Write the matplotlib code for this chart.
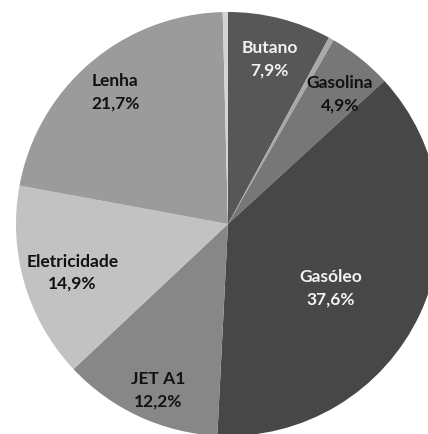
import matplotlib
matplotlib.use("Agg")
import matplotlib.pyplot as plt
import numpy as np

labels = ["Butano", "", "Gasolina", "Gasóleo", "JET A1", "Eletricidade", "Lenha", ""]
values = [7.9, 0.4, 4.9, 37.6, 12.2, 14.9, 21.7, 0.4]
pct_text = ["7,9%", "", "4,9%", "37,6%", "12,2%", "14,9%", "21,7%", ""]
colors = ["#575757", "#a8a8a8", "#777777", "#474747", "#878787", "#c2c2c2", "#9b9b9b", "#d4d4d4"]
text_colors = ["#f2f2f2", "k", "#111111", "#f2f2f2", "#111111", "#111111", "#111111", "k"]
label_r = [0.80, 0, 0.81, 0.57, 0.85, 0.77, 0.82, 0]
label_dang = [0, 0, 2, 7, -2, -1, 0, 0]

W, H = 428, 434
cx, cy, R = 228, 224, 212
fig = plt.figure(figsize=(W / 100, H / 100), dpi=100)
ax = fig.add_axes([0, 0, 1, 1])
wedges, _ = ax.pie(values, colors=colors, startangle=90, counterclock=False,
                   wedgeprops=dict(linewidth=0))
for w, lab, pt, tc, r, da in zip(wedges, labels, pct_text, text_colors, label_r, label_dang):
    if not lab:
        continue
    mid = np.deg2rad((w.theta1 + w.theta2) / 2 - da)
    ax.text(r * np.cos(mid), r * np.sin(mid), f"{lab}\n{pt}", ha="center", va="center",
            color=tc, fontsize=12.5, fontweight="bold", family=["Lato", "DejaVu Sans"],
            linespacing=1.5)
ax.set_aspect("auto")
ax.set_xlim(-cx / R, (W - cx) / R)
ax.set_ylim(-(H - cy) / R, cy / R)
ax.axis("off")
fig.savefig("out.png", dpi=100, facecolor="white")
